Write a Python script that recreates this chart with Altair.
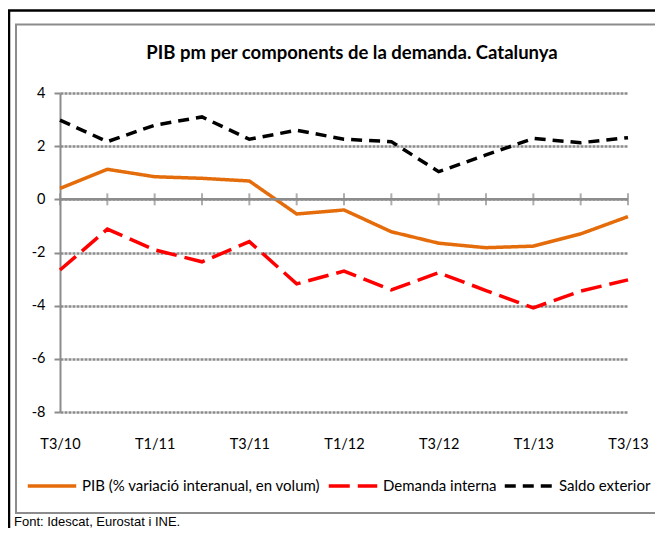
import altair as alt
import pandas as pd

QUARTERS = ["T3/10", "T4/10", "T1/11", "T2/11", "T3/11", "T4/11", "T1/12",
            "T2/12", "T3/12", "T4/12", "T1/13", "T2/13", "T3/13"]
LABELED = ["T3/10", "T1/11", "T3/11", "T1/12", "T3/12", "T1/13", "T3/13"]
PIB = [0.41, 1.13, 0.85, 0.79, 0.69, -0.55, -0.40, -1.22, -1.65, -1.82, -1.76, -1.30, -0.65]
DEMANDA = [-2.66, -1.12, -1.90, -2.35, -1.59, -3.18, -2.70, -3.41, -2.76, -3.43, -4.08, -3.45, -3.03]
SALDO = [2.98, 2.17, 2.79, 3.10, 2.26, 2.60, 2.26, 2.17, 1.04, 1.67, 2.29, 2.13, 2.32]
SERIES = ["PIB (% variació interanual, en volum)", "Demanda interna", "Saldo exterior"]
COLORS = ["#E46C0A", "#FF0000", "#000000"]
DASHES = [[1, 0], [21, 8], [11, 7]]
Y_TICKS = [-8, -6, -4, -2, 0, 2, 4]
TITLE = "PIB pm per components de la demanda. Catalunya"
SOURCE = "Font: Idescat, Eurostat i INE."

GRAY = "#8c8c8c"
FONT = "Lato"

rows = []
for name, vals in zip(SERIES, [PIB, DEMANDA, SALDO]):
    for q, v in zip(QUARTERS, vals):
        rows.append({"q": q, "v": v, "s": name})
df = pd.DataFrame(rows)

x_enc = alt.X("q:N", sort=QUARTERS, title=None,
              scale=alt.Scale(type="point", padding=0),
              axis=alt.Axis(values=LABELED, labelAngle=0, domain=False, ticks=False,
                            grid=False, labelFont=FONT, labelFontSize=14.5,
                            labelColor="black", labelPadding=25))
y_enc = alt.Y("v:Q", title=None,
              scale=alt.Scale(domain=[-8, 4], nice=False, zero=False),
              axis=alt.Axis(values=Y_TICKS, domainColor=GRAY, domainWidth=2,
                            tickColor=GRAY, tickSize=6, tickWidth=2,
                            gridColor=GRAY, gridDash=[3, 1], gridWidth=2.5,
                            labelFont=FONT, labelFontSize=14.5, labelColor="black",
                            labelPadding=9, labelExpr="toString(datum.value)"))

leg = alt.Legend(orient="none", legendX=-34, legendY=367, direction="horizontal",
                 title=None, symbolType="stroke", symbolSize=2350,
                 symbolStrokeWidth=3.5, labelFont=FONT, labelFontSize=15,
                 labelColor="black", columnPadding=0, labelOffset=4, labelLimit=400)

lines = alt.Chart(df).mark_line(strokeWidth=3.5).encode(
    x=x_enc, y=y_enc,
    color=alt.Color("s:N", scale=alt.Scale(domain=SERIES, range=COLORS), legend=leg),
    strokeDash=alt.StrokeDash("s:N", scale=alt.Scale(domain=SERIES, range=DASHES), legend=leg),
)

zero = alt.Chart(pd.DataFrame({"v": [0]})).mark_rule(color=GRAY, strokeWidth=2.5).encode(
    y=alt.Y("v:Q"))

ticks = alt.Chart(pd.DataFrame({"q": QUARTERS, "v": [0] * len(QUARTERS)})).mark_tick(
    orient="vertical", size=12, thickness=2, color=GRAY).encode(
    x=alt.X("q:N", sort=QUARTERS), y=alt.Y("v:Q"))

outer = alt.Chart(pd.DataFrame({"a": [0]})).mark_rect(
    fillOpacity=0, stroke="black", strokeWidth=2.5).encode(
    x=alt.value(-51), x2=alt.value(720), y=alt.value(-82.5), y2=alt.value(700))

inner = alt.Chart(pd.DataFrame({"a": [0]})).mark_rect(
    fillOpacity=0, stroke=GRAY, strokeWidth=2).encode(
    x=alt.value(-44), x2=alt.value(601), y=alt.value(-68.5), y2=alt.value(420))

title = alt.Chart(pd.DataFrame({"t": [TITLE]})).mark_text(
    font=FONT, fontSize=18.5, fontWeight="bold", align="center", baseline="alphabetic",
    color="black").encode(text="t:N", x=alt.value(292), y=alt.value(-34.5))

source = alt.Chart(pd.DataFrame({"t": [SOURCE]})).mark_text(
    font="Liberation Sans", fontSize=13, align="left", baseline="alphabetic",
    color="black").encode(text="t:N", x=alt.value(-46), y=alt.value(433))

chart = alt.layer(outer, inner, lines, zero, ticks, title, source).properties(
    width=568, height=319,
    autosize=alt.AutoSizeParams(type="none"),
    padding={"left": 52, "top": 85, "right": 27, "bottom": 116},
    background="white",
).configure_view(strokeWidth=0)

chart.save("out.html", embed_options={"renderer": "svg", "actions": False})
